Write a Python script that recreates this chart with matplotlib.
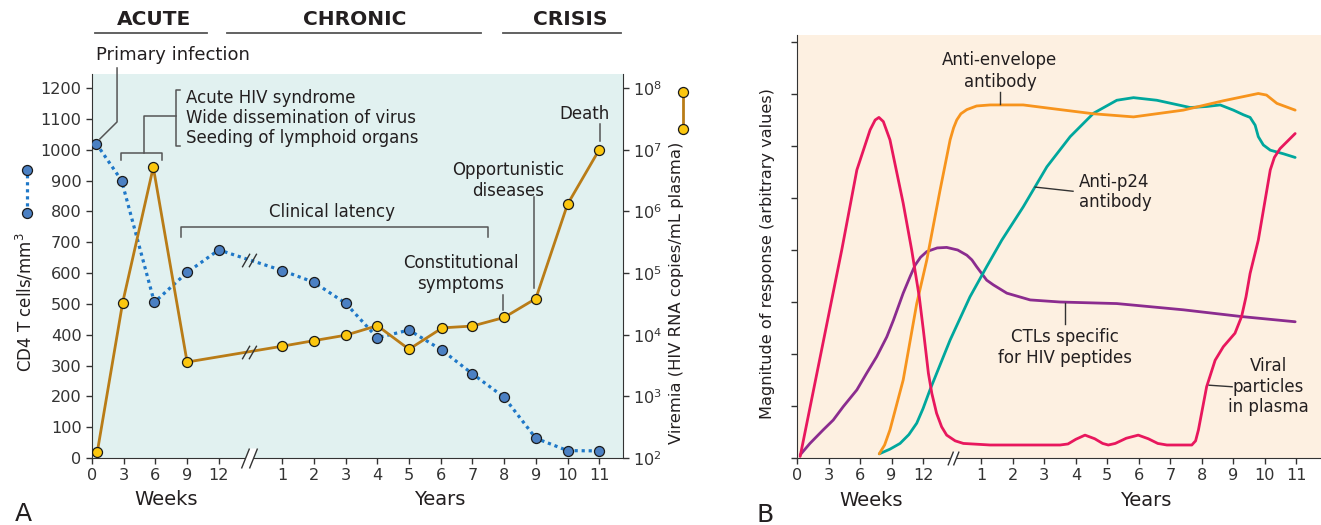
import numpy as np
import matplotlib.pyplot as plt
from matplotlib.path import Path

plt.rcParams['font.family'] = ['DejaVu Sans']
plt.rcParams['text.color'] = '#231f20'
plt.rcParams['axes.edgecolor'] = '#333333'
plt.rcParams['xtick.color'] = '#333333'
plt.rcParams['ytick.color'] = '#333333'

W, H = 1321, 525

# shared time axis: weeks 0-12, then a break, then years 1-11
week_ticks = [0, 3, 6, 9, 12]
year_ticks = list(range(1, 12))

# ---- panel A: CD4 count (cells/mm3) and viremia (copies/mL)
cd4_week = [0.4, 2.8, 5.9, 9, 12]
cd4_week_val = [1020, 900, 505, 602, 675]
cd4_year = [1, 2, 3, 4, 5, 6.05, 7, 8, 9, 10, 11]
cd4_year_val = [608, 570, 502, 390, 415, 349, 273, 197, 64, 24, 23]

vir_week = [0.5, 2.9, 5.8, 9]
vir_week_val = [125, 3.3e4, 5.2e6, 3.6e3]
vir_year = [1, 2, 3, 4, 5, 6.05, 7, 8, 9, 10, 11]
vir_year_val = [6.5e3, 8.0e3, 9.8e3, 1.4e4, 5.8e3, 1.29e4, 1.38e4, 1.9e4,
                3.85e4, 1.3e6, 1.0e7]

# ---- panel B: immune responses, x = position along the broken time axis
red_t = [0.1, 1.42, 1.9, 2.32, 2.48, 2.6, 2.74, 2.95, 3.37, 3.64, 3.88, 4.01,
         4.17, 4.28, 4.43, 4.59, 4.75, 5.02, 5.28, 6.13, 8.35, 8.6, 8.85,
         9.14, 9.45, 9.7, 9.88, 10.1, 10.45, 10.83, 11.15, 11.45, 11.74,
         12.53, 12.65, 12.74, 13.0, 13.27, 13.53, 13.9, 14.11, 14.25, 14.38,
         14.64, 15.02, 15.15, 15.33, 15.81]
red_v = [0.03, 4.0, 5.54, 6.31, 6.5, 6.55, 6.47, 6.12, 4.9, 4.0, 3.1, 2.46,
         1.63, 1.24, 0.86, 0.6, 0.44, 0.33, 0.28, 0.25, 0.25, 0.27, 0.36,
         0.44, 0.37, 0.28, 0.25, 0.28, 0.38, 0.44, 0.37, 0.28, 0.25,
         0.25, 0.33, 0.54, 1.37, 1.88, 2.14, 2.4, 2.72, 3.1, 3.55,
         4.19, 5.54, 5.78, 5.95, 6.24]

env_t = [2.61, 2.78, 2.95, 3.37, 3.8, 4.12, 4.54, 4.86, 4.97, 5.07, 5.2, 5.39,
         5.7, 6.13, 7.18, 8.35, 9.41, 10.68, 12.26, 13.53, 14.64, 14.9, 15.23,
         15.81]
env_v = [0.08, 0.25, 0.54, 1.5, 2.97, 3.81, 5.15, 6.12, 6.35, 6.5, 6.62, 6.7,
         6.77, 6.79, 6.79, 6.7, 6.62, 6.56, 6.69, 6.87, 7.01, 6.98, 6.82,
         6.69]

p24_t = [2.61, 2.95, 3.27, 3.55, 3.8, 4.0, 4.22, 4.86, 5.49, 6.02, 6.5, 7.18,
         7.93, 8.67, 9.41, 10.15, 10.68, 11.42, 12.48, 13.0, 13.43, 13.85,
         14.17, 14.38, 14.54, 14.64, 14.8, 15.02, 15.44, 15.81]
p24_v = [0.08, 0.17, 0.28, 0.45, 0.67, 0.95, 1.31, 2.27, 3.1, 3.68, 4.19, 4.83,
         5.6, 6.18, 6.63, 6.88, 6.93, 6.88, 6.74, 6.76, 6.79, 6.69,
         6.6, 6.55, 6.4, 6.18, 6.02, 5.92, 5.85, 5.78]

ctl_t = [0.1, 0.41, 0.83, 1.15, 1.47, 1.9, 2.21, 2.53, 2.85, 3.06, 3.37, 3.59,
         3.75, 3.92, 4.12, 4.45, 4.75, 5.1, 5.39, 5.55, 5.7, 5.86, 6.02, 6.23,
         6.66, 7.4, 8.35, 10.15, 12.26, 14.11, 15.81]
ctl_v = [0.06, 0.28, 0.54, 0.73, 0.99, 1.31, 1.63, 1.95, 2.33, 2.65, 3.17, 3.49,
         3.71, 3.86, 3.97, 4.04, 4.05, 4.0, 3.9, 3.81, 3.68, 3.55, 3.42, 3.33,
         3.17, 3.04, 3.0, 2.97, 2.85, 2.72, 2.62]

GRAY = '#555555'

# double-slash markers for the axis breaks
line_slash = Path([(-7.5, -7), (0.5, 7), (-0.5, -7), (7.5, 7)],
                  [Path.MOVETO, Path.LINETO, Path.MOVETO, Path.LINETO])
axis_slash = Path([(-8, -10), (0, 10), (0, -10), (8, 10)],
                  [Path.MOVETO, Path.LINETO, Path.MOVETO, Path.LINETO])
axis_gap = Path([(-8, -10), (0, 10), (8, 10), (0, -10), (-8, -10)],
                [Path.MOVETO, Path.LINETO, Path.LINETO, Path.LINETO, Path.CLOSEPOLY])


def axis_break(a, x, size):
    a.plot([x], [a.get_ylim()[0]], marker=axis_gap, ms=size, mfc='white',
           mec='none', clip_on=False, zorder=5)
    a.plot([x], [a.get_ylim()[0]], marker=axis_slash, ms=size, mfc='none',
           mec='#333333', mew=1.0, clip_on=False, zorder=6)


fig = plt.figure(figsize=(W / 100, H / 100), dpi=100)

# ================= panel A
ax = fig.add_axes([92 / W, 67 / H, 531 / W, 384 / H])
ax.set_facecolor('#e1f1f0')
ax.set_xlim(0, 16.75)
ax.set_ylim(0, 1245.5)
vx = ax.twinx()
vx.set_yscale('log')
vx.set_ylim(1e2, 10 ** (2 + 1245.5 / 200))

ax.set_xticks(np.concatenate([np.array(week_ticks) / 3, np.array(year_ticks) + 5]))
ax.set_xticklabels([str(t) for t in week_ticks + year_ticks])
ax.set_yticks(range(0, 1201, 100))
vx.set_yticks([10.0 ** k for k in range(2, 9)])
vx.set_yticklabels([f'$10^{{{k}}}$' for k in range(2, 9)])
vx.yaxis.set_minor_locator(plt.NullLocator())
for a in (ax, vx):
    a.tick_params(direction='out', length=4.5, width=1, labelsize=11.6, pad=3)
ax.spines[['top', 'right']].set_visible(False)
vx.spines[['top', 'left', 'bottom']].set_visible(False)

cd4_x = np.concatenate([np.array(cd4_week) / 3, np.array(cd4_year) + 5])
cd4_y = np.array(cd4_week_val + cd4_year_val)
vir_x = np.concatenate([np.array(vir_week) / 3, np.array(vir_year) + 5])
vir_y = np.array(vir_week_val + vir_year_val)

cd4_style = dict(color='#1f78c8', lw=2.3, dashes=(1, 1.2), marker='o', ms=7.2,
                 mfc='#4b80c3', mec='#1a1a1a', mew=0.9)
vir_style = dict(color='#b97c17', lw=2.0, marker='o', ms=7.2,
                 mfc='#fcc70f', mec='#1a1a1a', mew=0.9)
ax.plot(cd4_x, cd4_y, zorder=3, **cd4_style)
vx.plot(vir_x, vir_y, zorder=3, **vir_style)

brk = 4.95
ax.plot([brk], [np.interp(brk, cd4_x, cd4_y)], marker=line_slash, ms=10.5,
        mfc='none', mec='#333333', mew=1.0, zorder=4)
vx.plot([brk], [10 ** np.interp(brk, vir_x, np.log10(vir_y))], marker=line_slash,
        ms=10.5, mfc='none', mec='#333333', mew=1.0, zorder=4)
axis_break(ax, brk, 14.4)

# phase headers
for label, x0, x1, xc in [('ACUTE', 0.08, 3.63, 1.97), ('CHRONIC', 4.26, 12.27, 8.3),
                          ('CRISIS', 12.97, 16.69, 15.08)]:
    ax.plot([x0, x1], [1378.5, 1378.5], color=GRAY, lw=1.3, clip_on=False)
    ax.text(xc, 1421, label, ha='center', va='center', fontsize=14.5,
            fontweight='bold')

# annotations
ax.text(2.56, 1307, 'Primary infection', ha='center', va='center', fontsize=13)
ax.plot([0.79, 0.79, 0.25], [1265, 1090, 1035], color=GRAY, lw=1.1, clip_on=False)

ax.plot([0.915, 0.915, 2.21, 2.21], [967, 989, 989, 967], color=GRAY, lw=1.1)
ax.plot([1.64, 1.64, 2.65], [989, 1109, 1109], color=GRAY, lw=1.1)
ax.plot([2.78, 2.65, 2.65, 2.78], [1194, 1194, 1012, 1012], color=GRAY, lw=1.1)
for s, yv in [('Acute HIV syndrome', 1168), ('Wide dissemination of virus', 1103),
              ('Seeding of lymphoid organs', 1038)]:
    ax.text(2.97, yv, s, ha='left', va='center', fontsize=12)

ax.plot([2.81, 2.81, 12.49, 12.49], [717, 749, 749, 717], color=GRAY, lw=1.1)
ax.text(7.57, 798, 'Clinical latency', ha='center', va='center', fontsize=12)

ax.text(11.64, 632, 'Constitutional', ha='center', va='center', fontsize=12)
ax.text(11.64, 564, 'symptoms', ha='center', va='center', fontsize=12)
ax.plot([12.97, 12.97], [529, 480], color=GRAY, lw=1.1)

ax.text(13.12, 934, 'Opportunistic', ha='center', va='center', fontsize=12)
ax.text(13.12, 866, 'diseases', ha='center', va='center', fontsize=12)
ax.plot([13.94, 13.94], [847, 551], color=GRAY, lw=1.1)

ax.text(15.55, 1116, 'Death', ha='center', va='center', fontsize=12)
ax.plot([16.02, 16.02], [1083, 1028], color=GRAY, lw=1.1)

# axis titles with their line keys
ax.text(-2.11, 506, 'CD4 T cells/mm$^3$', rotation=90, ha='center', va='center',
        fontsize=12)
ax.plot([-2.05, -2.05], [795, 934], clip_on=False, **cd4_style)
ax.text(18.45, 535, 'Viremia (HIV RNA copies/mL plasma)', rotation=90,
        ha='center', va='center', fontsize=11.8)
ax.plot([18.64, 18.64], [1067, 1187], clip_on=False, **vir_style)
ax.text(2.33, -136, 'Weeks', ha='center', va='center', fontsize=14)
ax.text(10.98, -136, 'Years', ha='center', va='center', fontsize=14)
fig.text(23 / W, 1 - 514 / H, 'A', ha='center', va='center', fontsize=18)

# ================= panel B
bx = fig.add_axes([797 / W, 67 / H, 524 / W, 423 / H])
bx.set_facecolor('#fdf0e1')
bx.set_xlim(0, 16.63)
bx.set_ylim(0, 8.135)
bx.set_xticks(np.concatenate([np.array(week_ticks) / 3, np.array(year_ticks) + 4.85]))
bx.set_xticklabels([str(t) for t in week_ticks + year_ticks])
bx.set_yticks(range(0, 9))
bx.set_yticklabels([])
bx.tick_params(direction='out', length=4.5, width=1, labelsize=11.6, pad=3)
bx.spines[['top', 'right']].set_visible(False)

curve_style = dict(lw=2.0, solid_joinstyle='round', solid_capstyle='round')
bx.plot(ctl_t, ctl_v, color='#8b2c8f', **curve_style)
bx.plot(p24_t, p24_v, color='#00a79d', **curve_style)
bx.plot(env_t, env_v, color='#f7941d', **curve_style)
bx.plot(red_t, red_v, color='#e8175d', **curve_style)
axis_break(bx, 4.95, 10)

bx.text(6.44, 7.65, 'Anti-envelope', ha='center', va='center', fontsize=12)
bx.text(6.44, 7.23, 'antibody', ha='center', va='center', fontsize=12)
bx.plot([6.44, 6.44], [7.04, 6.81], color='#333333', lw=1.0)

bx.text(8.95, 5.31, 'Anti-p24', ha='left', va='center', fontsize=12)
bx.text(8.95, 4.92, 'antibody', ha='left', va='center', fontsize=12)
bx.plot([7.56, 8.76], [5.21, 5.13], color='#333333', lw=1.0)

bx.text(8.51, 2.33, 'CTLs specific', ha='center', va='center', fontsize=12)
bx.text(8.51, 1.92, 'for HIV peptides', ha='center', va='center', fontsize=12)
bx.plot([8.51, 8.51], [2.98, 2.58], color='#333333', lw=1.0)

for s, yv in [('Viral', 1.77), ('particles', 1.37), ('in plasma', 0.98)]:
    bx.text(14.95, yv, s, ha='center', va='center', fontsize=12)
bx.plot([13.08, 13.81], [1.40, 1.37], color='#333333', lw=1.0)

bx.text(-0.95, 3.94, 'Magnitude of response (arbitrary values)', rotation=90,
        ha='center', va='center', fontsize=11.6)
bx.text(2.35, -0.81, 'Weeks', ha='center', va='center', fontsize=14)
bx.text(11.08, -0.81, 'Years', ha='center', va='center', fontsize=14)
fig.text(765 / W, 1 - 515 / H, 'B', ha='center', va='center', fontsize=18)

fig.savefig('out.png', dpi=100)
